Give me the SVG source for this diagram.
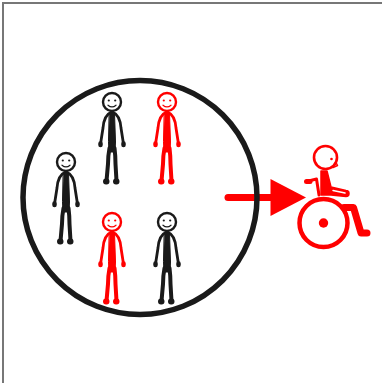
<svg xmlns="http://www.w3.org/2000/svg" width="382" height="383" viewBox="0 0 382 383">
<defs>
<style>
.p{fill:none;stroke-linecap:round;stroke-linejoin:round}
.k{stroke:#1a1a1a;color:#1a1a1a}
.r{stroke:#ff0000;color:#ff0000}
</style>
<g id="person" class="p">
<path d="M-0.500 10Q-8 13 -9 26L-11.500 42" stroke-width="2.800"/>
<path d="M0.500 10Q8 13 9 26L11.500 42" stroke-width="2.800"/>
<path d="M-11.500 41.500V43M11.500 41.500V43" stroke-width="4.500"/>
<path d="M-2.500 11L2.500 11L3.500 40L3 50L-3 50L-3.500 40Z" fill="currentColor" stroke-width="1"/>
<path d="M-2.500 46Q-4 54 -4 62L-5.500 79" stroke-width="4"/>
<path d="M2.500 46Q3.500 54 3.500 62L4.500 79" stroke-width="4"/>
<path d="M-6 79.500H-5.500M4 79.500H4.500" stroke-width="6"/>
<circle cx="0" cy="0" r="9" stroke-width="2.400" fill="#fff"/>
<circle cx="-3.200" cy="-1.500" r="1.100" fill="currentColor" stroke="none"/>
<circle cx="3.200" cy="-1.500" r="1.100" fill="currentColor" stroke="none"/>
<path d="M-4 3.200Q0 6.600 4 3.200" stroke-width="1.200"/>
</g>
</defs>
<rect width="382" height="383" fill="#fff"/>
<path d="M3 383V3H382" fill="none" stroke="#777" stroke-width="2"/>
<g id="connectors">
<path d="M228 197.500H272" fill="none" stroke="#ff0000" stroke-width="7" stroke-linecap="round"/>
<path d="M270.500 179L306 197.500L270.500 216Z" fill="#ff0000"/>
</g>
<g id="crowd-circle"><circle cx="140" cy="197.500" r="117" fill="none" stroke="#1a1a1a" stroke-width="5.500"/></g>
<g id="person-1" class="k"><use href="#person" x="112" y="102"/></g>
<g id="person-2" class="r"><use href="#person" x="167" y="102"/></g>
<g id="person-3" class="k"><use href="#person" x="66" y="162"/></g>
<g id="person-4" class="r"><use href="#person" x="112" y="222"/></g>
<g id="person-5" class="k"><use href="#person" x="167" y="222"/></g>
<g id="wheelchair-user" class="p r">
<path d="M321 171H327L331 187L346 190.500A3 3 0 0 1 346 196.500L331 195L321 195Z" fill="#ff0000" stroke-width="1.500"/>
<path d="M333 190.500L345 193" stroke="#fff" stroke-width="1.500"/>
<path d="M306.500 181.500L316.500 179L319 195" stroke-width="3"/>
<path d="M306.500 181.500H310" stroke-width="5"/>
<circle cx="325.500" cy="157.500" r="11.500" stroke-width="2.600" fill="#fff"/>
<circle cx="331.500" cy="159" r="1.300" fill="#ff0000" stroke="none"/>
<path d="M336 162.500L337.500 165.500L333 167.500" stroke-width="1.500"/>
<circle cx="323.500" cy="223" r="24" stroke-width="4.500"/>
<circle cx="323.500" cy="223" r="4.700" fill="#ff0000" stroke="none"/>
<path d="M344 207.500H353.500L361 233H367" stroke-width="7"/>
</g>
</svg>
